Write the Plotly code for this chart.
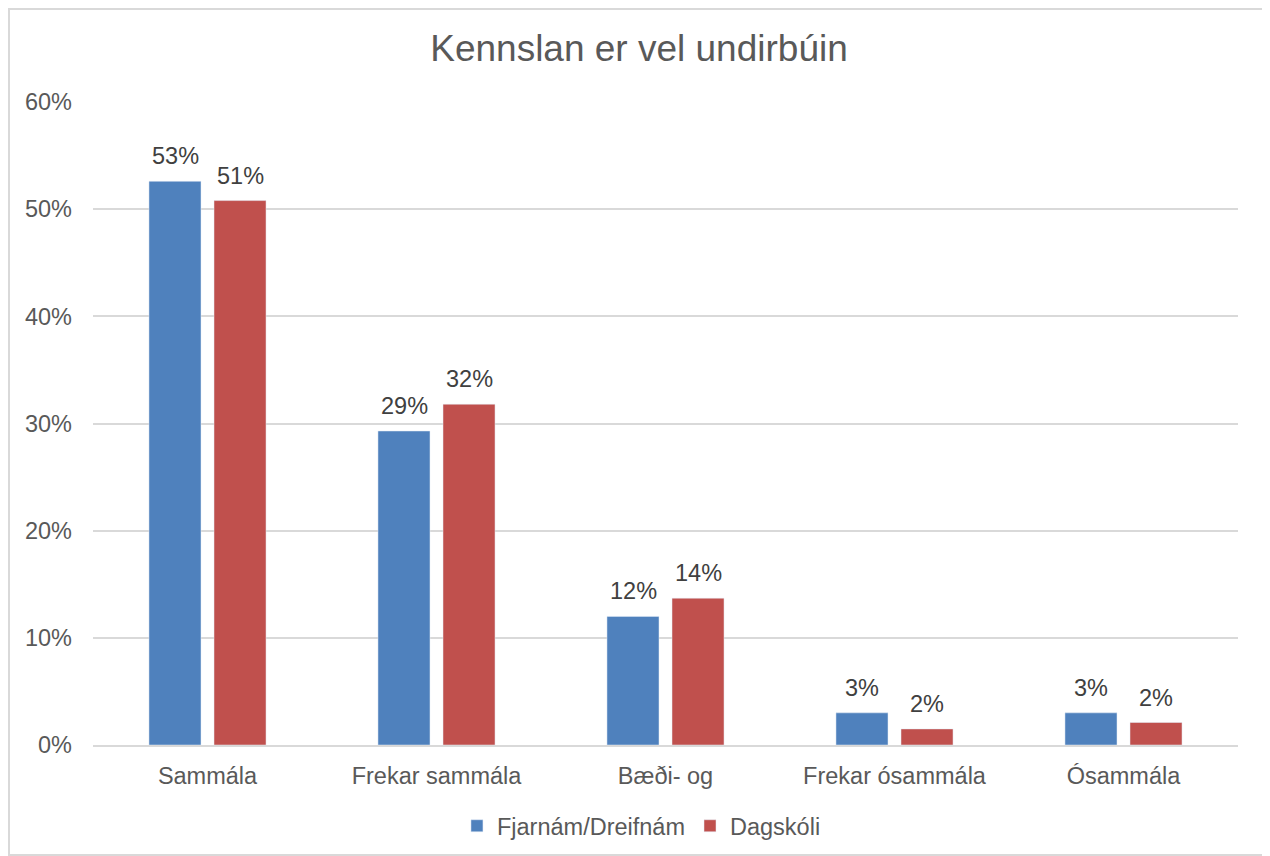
import plotly.graph_objects as go

# gögn lesin af myndinni
flokkar = ["Sammála", "Frekar sammála", "Bæði- og", "Frekar ósammála", "Ósammála"]
fjarnam = [0.526, 0.293, 0.120, 0.030, 0.030]
dagskoli = [0.508, 0.318, 0.137, 0.015, 0.021]
y_ticks = [0, 0.1, 0.2, 0.3, 0.4, 0.5, 0.6]

FONT = "Liberation Sans, Arial, sans-serif"
FS = 23.5

fig = go.Figure()
fig.add_trace(go.Bar(x=flokkar, y=fjarnam, name="Fjarnám/Dreifnám",
                     marker=dict(color="#4F81BD")))
fig.add_trace(go.Bar(x=flokkar, y=dagskoli, name="Dagskóli",
                     marker=dict(color="#C0504D")))

# gildismerki ofan á súlunum
for rod, shift in [(fjarnam, -32.5), (dagskoli, 32.5)]:
    for k, v in zip(flokkar, rod):
        fig.add_annotation(x=k, y=v, text=f"{v:.0%}", showarrow=False,
                           xshift=shift, yshift=10, yanchor="bottom",
                           font=dict(size=FS, color="#404040", family=FONT))

fig.update_layout(
    width=1262, height=848,
    barmode="group", bargap=0.432, bargroupgap=0.2,
    plot_bgcolor="white", paper_bgcolor="white",
    font=dict(family=FONT, size=FS, color="#595959"),
    title=dict(text="Kennslan er vel undirbúin", x=0.5, xanchor="center",
               y=0.953, yanchor="middle",
               font=dict(size=37, color="#595959", family=FONT)),
    margin=dict(l=85, r=32, t=94, b=111),
    legend=dict(orientation="h", x=0.479, xanchor="center",
                yref="container", y=0.0354, yanchor="middle",
                font=dict(size=FS, color="#595959"), itemwidth=30,
                traceorder="normal"),
)
fig.update_xaxes(showline=True, linecolor="#D9D9D9", linewidth=2,
                 ticks="", ticklabelstandoff=9,
                 tickfont=dict(size=FS, color="#595959"))
fig.update_yaxes(range=[0, 0.6], tickvals=y_ticks, tickformat=".0%",
                 showgrid=True, gridcolor="#D9D9D9", gridwidth=1.5,
                 zeroline=False, ticks="", ticklabelstandoff=20,
                 tickfont=dict(size=FS, color="#595959"))

# rammi utan um myndina
fig.add_shape(type="rect", xref="paper", yref="paper",
              x0=-84/1145, x1=1175/1145, y0=-110/643, y1=1 + 93/643,
              line=dict(color="#D9D9D9", width=2))

fig.write_html("out.html")
